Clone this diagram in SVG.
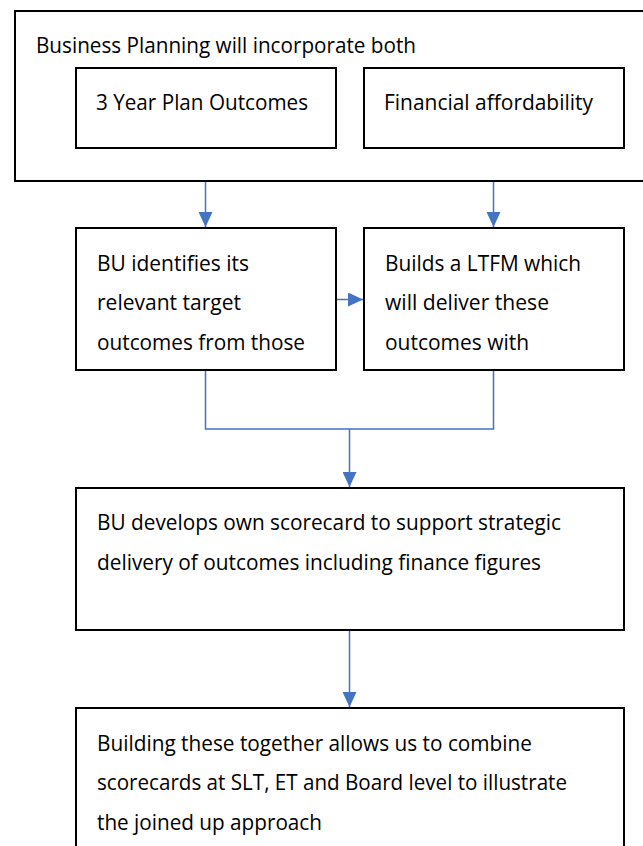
<svg xmlns="http://www.w3.org/2000/svg" width="643" height="846" viewBox="0 0 643 846">
  <style>
    .box { fill: none; stroke: #000; stroke-width: 2; }
    .t { font-family: "Open Sans", "Noto Sans", "Liberation Sans", sans-serif; font-size: 21px; fill: #000; }
    .conn { fill: none; stroke: #4472C4; stroke-width: 1.5; }
  </style>
  <defs>
    <marker id="arr" markerUnits="userSpaceOnUse" markerWidth="15" markerHeight="14" viewBox="0 0 15 14" refX="15" refY="7" orient="auto">
      <path d="M0,0 L15,7 L0,14 Z" fill="#4472C4"/>
    </marker>
  </defs>
  <rect x="0" y="0" width="643" height="846" fill="#fff"/>

  <g id="business-planning">
    <rect class="box" x="15" y="11" width="640" height="170"/>
    <text class="t" x="36" y="53" textLength="380" lengthAdjust="spacingAndGlyphs">Business Planning will incorporate both</text>
  </g>
  <g id="three-year-plan">
    <rect class="box" x="76" y="68" width="260" height="80"/>
    <text class="t" x="96" y="110" textLength="212" lengthAdjust="spacingAndGlyphs">3 Year Plan Outcomes</text>
  </g>
  <g id="financial-affordability">
    <rect class="box" x="364" y="68" width="260" height="80"/>
    <text class="t" x="384" y="110" textLength="209" lengthAdjust="spacingAndGlyphs">Financial affordability</text>
  </g>
  <g id="bu-identifies">
    <rect class="box" x="76" y="228" width="260" height="142"/>
    <text class="t" x="97" y="270.5" textLength="152" lengthAdjust="spacingAndGlyphs">BU identifies its</text>
    <text class="t" x="97" y="310" textLength="144" lengthAdjust="spacingAndGlyphs">relevant target</text>
    <text class="t" x="97" y="349.5" textLength="208" lengthAdjust="spacingAndGlyphs">outcomes from those</text>
  </g>
  <g id="builds-ltfm">
    <rect class="box" x="364" y="228" width="260" height="142"/>
    <text class="t" x="385" y="270.5" textLength="196" lengthAdjust="spacingAndGlyphs">Builds a LTFM which</text>
    <text class="t" x="385" y="310" textLength="164" lengthAdjust="spacingAndGlyphs">will deliver these</text>
    <text class="t" x="385" y="349.5" textLength="144" lengthAdjust="spacingAndGlyphs">outcomes with</text>
  </g>
  <g id="bu-scorecard">
    <rect class="box" x="76" y="488" width="548" height="142"/>
    <text class="t" x="97" y="530" textLength="464" lengthAdjust="spacingAndGlyphs">BU develops own scorecard to support strategic</text>
    <text class="t" x="97" y="569.5" textLength="444" lengthAdjust="spacingAndGlyphs">delivery of outcomes including finance figures</text>
  </g>
  <g id="building-together">
    <rect class="box" x="76" y="708" width="548" height="160"/>
    <text class="t" x="97" y="750.5" textLength="435" lengthAdjust="spacingAndGlyphs">Building these together allows us to combine</text>
    <text class="t" x="97" y="790" textLength="470" lengthAdjust="spacingAndGlyphs">scorecards at SLT, ET and Board level to illustrate</text>
    <text class="t" x="97" y="829.5" textLength="225" lengthAdjust="spacingAndGlyphs">the joined up approach</text>
  </g>

  <g id="connectors">
    <line class="conn" x1="205.5" y1="182" x2="205.5" y2="227" marker-end="url(#arr)"/>
    <line class="conn" x1="493.5" y1="182" x2="493.5" y2="227" marker-end="url(#arr)"/>
    <line class="conn" x1="337" y1="299.5" x2="363" y2="299.5" marker-end="url(#arr)"/>
    <path class="conn" d="M205.5,371 V429 H493.5 V371"/>
    <line class="conn" x1="349.5" y1="429" x2="349.5" y2="487" marker-end="url(#arr)"/>
    <line class="conn" x1="349.5" y1="631" x2="349.5" y2="707" marker-end="url(#arr)"/>
  </g>
</svg>
